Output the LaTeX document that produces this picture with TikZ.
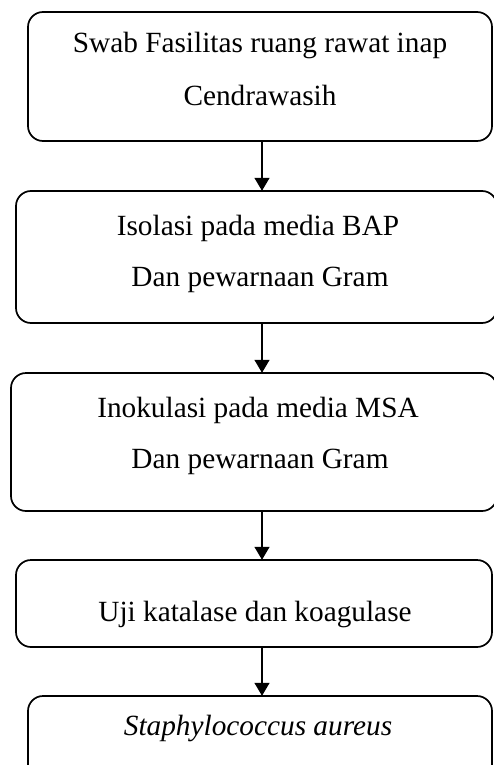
\documentclass[tikz,border=0pt]{standalone}
\usepackage{fontspec}
\setmainfont{Liberation Serif}
\usetikzlibrary{arrows.meta}
\begin{document}
\begin{tikzpicture}[x=1pt,y=-1pt,
  box/.style={draw=black,line width=1.7pt,rounded corners=15pt},
  txt/.style={anchor=base,inner sep=0pt,font=\fontsize{29.3}{35}\selectfont},
  flow/.style={line width=1.4pt,-{Triangle[length=13pt,width=15pt]}}]
\useasboundingbox (0,0) rectangle (494,765);
\fill[white] (0,0) rectangle (494,765);
\coordinate (ax) at (262,0);
% boxes
\draw[box] (28,12) rectangle (492,141);
\node[inner sep=0pt,minimum width=464pt,minimum height=129pt] (b1) at (260,76.5) {};
\draw[box] (16,191) rectangle (497,323);
\node[inner sep=0pt,minimum width=481pt,minimum height=132pt] (b2) at (256.5,257) {};
\draw[box] (11,373) rectangle (497,511);
\node[inner sep=0pt,minimum width=486pt,minimum height=138pt] (b3) at (254,442) {};
\draw[box] (16,560) rectangle (492,647);
\node[inner sep=0pt,minimum width=476pt,minimum height=87pt] (b4) at (254,603.5) {};
\draw[box] (28,696) rectangle (492,800);
\node[inner sep=0pt,minimum width=464pt,minimum height=104pt] (b5) at (260,748) {};
% texts
\node[txt] (t1a) at (260,53) {Swab Fasilitas ruang rawat inap};
\node[txt] (t1b) at (260,106) {Cendrawasih};
\node[txt] (t2a) at (258,235) {Isolasi pada media BAP};
\node[txt] (t2b) at (260,286) {Dan pewarnaan Gram};
\node[txt] (t3a) at (258,417) {Inokulasi pada media MSA};
\node[txt] (t3b) at (260,468) {Dan pewarnaan Gram};
\node[txt] (t4) at (255,621) {Uji katalase dan koagulase};
\node[txt] (t5) at (258,735) {\itshape Staphylococcus aureus};
% arrows
\draw[flow] (b1.south -| ax) -- (b2.north -| ax);
\draw[flow] (b2.south -| ax) -- (b3.north -| ax);
\draw[flow] (b3.south -| ax) -- (b4.north -| ax);
\draw[flow] (b4.south -| ax) -- (b5.north -| ax);
\end{tikzpicture}
\end{document}
